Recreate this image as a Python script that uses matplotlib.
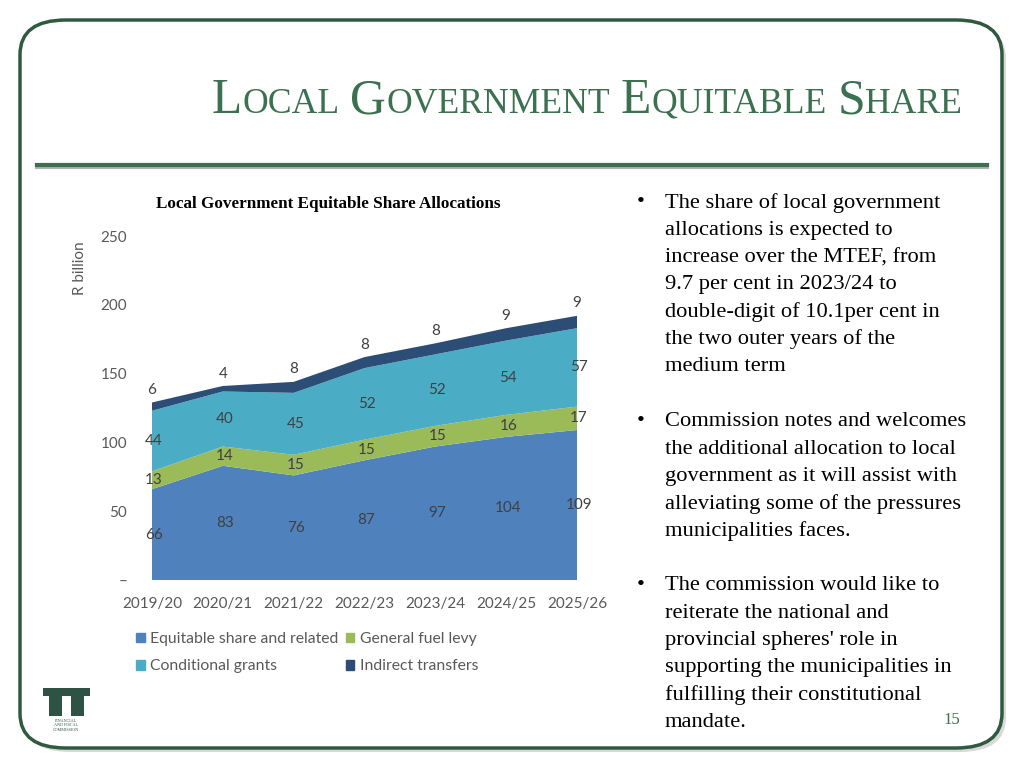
import matplotlib
matplotlib.use('Agg')
import matplotlib.pyplot as plt
from matplotlib.patches import FancyBboxPatch, Rectangle, Patch

years = ['2019/20', '2020/21', '2021/22', '2022/23', '2023/24', '2024/25', '2025/26']
equitable = [66, 83, 76, 87, 97, 104, 109]
fuel_levy = [13, 14, 15, 15, 15, 16, 17]
conditional = [44, 40, 45, 52, 52, 54, 57]
indirect = [6, 4, 8, 8, 8, 9, 9]

series_names = ['Equitable share and related', 'General fuel levy', 'Conditional grants', 'Indirect transfers']
colors = ['#4F81BD', '#9BBB59', '#4BACC6', '#2C4D75']

bullets = [
    ['The share of local government', 'allocations is expected to', 'increase over the MTEF, from',
     '9.7 per cent in 2023/24 to', 'double-digit of 10.1per cent in', 'the two outer years of the',
     'medium term'],
    ['Commission notes and welcomes', 'the additional allocation to local',
     'government as it will assist with', 'alleviating some of the pressures',
     'municipalities faces.'],
    ['The commission would like to', 'reiterate the national and', "provincial spheres' role in",
     'supporting the municipalities in', 'fulfilling their constitutional', 'mandate.'],
]

green = '#3B7050'
W, H = 1024, 768
fig = plt.figure(figsize=(10.24, 7.68), dpi=100)

# slide frame with a soft shadow
shadow = FancyBboxPatch((24 / W, 1 - 752 / H), 982 / W, 728 / H, boxstyle='round,pad=0,rounding_size=0.045',
                        transform=fig.transFigure, facecolor='#d9d9d9', edgecolor='none', zorder=-2)
frame = FancyBboxPatch((20 / W, 1 - 748 / H), 982 / W, 728 / H, boxstyle='round,pad=0,rounding_size=0.045',
                       transform=fig.transFigure, facecolor='white', edgecolor='#2F5A40', linewidth=2.5, zorder=-1)
fig.patches.extend([shadow, frame])

# title rule
fig.add_artist(plt.Line2D([37 / W, 987 / W], [1 - 167 / H, 1 - 167 / H], color='#b0b0b0', lw=3, zorder=2))
fig.add_artist(plt.Line2D([37 / W, 987 / W], [1 - 165 / H, 1 - 165 / H], color='#3E6E50', lw=3, zorder=3))

# small caps title
renderer = fig.canvas.get_renderer()
pieces = [('L', 35.7), ('OCAL', 25.7), (' ', 0), ('G', 35.7), ('OVERNMENT', 25.7), (' ', 0),
          ('E', 35.7), ('QUITABLE', 25.7), (' ', 0), ('S', 35.7), ('HARE', 25.7)]
x = 212 / W
for s, size in pieces:
    if s == ' ':
        x += 11 / W
        continue
    t = fig.text(x, 1 - 113 / H, s, fontsize=size, family='Liberation Serif', color=green,
                 va='baseline', ha='left', zorder=5)
    x += t.get_window_extent(renderer).width / W

# chart
ax = fig.add_axes([152 / W, 1 - 580 / H, 425 / W, (580 - 236) / H])
xs = list(range(len(years)))
ax.stackplot(xs, equitable, fuel_levy, conditional, indirect, colors=colors, zorder=2)
ax.set_xlim(0, len(years) - 1)
ax.set_ylim(0, 250)
ax.set_yticks([0, 50, 100, 150, 200, 250])
ax.set_yticklabels(['–', '50', '100', '150', '200', '250'])
ax.set_xticks(xs)
ax.set_xticklabels(years)
for sp in ax.spines.values():
    sp.set_visible(False)
ax.tick_params(axis='y', length=0, pad=18, labelsize=11, labelcolor='#595959')
ax.tick_params(axis='x', length=0, pad=12, labelsize=11, labelcolor='#595959')
for lab in ax.get_xticklabels() + ax.get_yticklabels():
    lab.set_family('Lato')
ax.patch.set_alpha(0)

lab_kw = dict(ha='center', va='center', fontsize=11, color='#404040', family='Lato', zorder=4)
for i in xs:
    base = 0
    for vals in (equitable, fuel_levy, conditional):
        ax.text(i + 0.03, base + vals[i] / 2, str(vals[i]), **lab_kw)
        base += vals[i]
    ax.text(i, base + indirect[i] + 9, str(indirect[i]), **lab_kw)

fig.text(80 / W, 1 - 268 / H, 'R billion', rotation=90, ha='center', va='center',
         fontsize=11, color='#595959', family='Lato')
fig.text(328 / W, 1 - 204 / H, 'Local Government Equitable Share Allocations', ha='center', va='center',
         fontsize=12.3, weight='bold', family='Liberation Serif', color='black')

handles = [Patch(color=c) for c in colors]
order = [0, 2, 1, 3]
leg = fig.legend([handles[k] for k in order], [series_names[k] for k in order], ncol=2,
                 loc='upper left', bbox_to_anchor=(122 / W, 1 - 618 / H), frameon=False,
                 handlelength=0.55, handleheight=0.55, handletextpad=0.35, columnspacing=0.45,
                 labelspacing=0.85, prop={'family': 'Lato', 'size': 11.3})
for t in leg.get_texts():
    t.set_color('#595959')

# bullets
y = 203
for block in bullets:
    fig.text(637 / W, 1 - y / H, '•', fontsize=16.2, family='Liberation Serif', va='center', ha='left')
    for line in block:
        fig.text(665 / W, 1 - y / H, line, fontsize=16.2, family='Liberation Serif', va='center', ha='left')
        y += 27.3
    y += 27.6

fig.text(952 / W, 1 - 720 / H, '15', fontsize=12, family='Liberation Serif', color=green,
         ha='center', va='center')

# logo
logo = '#2E5243'
for (lx, ly, lw, lh) in [(43, 688, 47, 8), (49, 696, 13, 20), (71, 696, 13, 20)]:
    fig.add_artist(Rectangle((lx / W, 1 - (ly + lh) / H), lw / W, lh / H, transform=fig.transFigure,
                             facecolor=logo, edgecolor='none', zorder=5))
for k, s in enumerate(['FINANCIAL', 'AND FISCAL', 'COMMISSION']):
    fig.text(66 / W, 1 - (721 + k * 4.5) / H, s, fontsize=3, family='Liberation Serif', color=logo,
             ha='center', va='center')

fig.savefig('out.png', dpi=100)
